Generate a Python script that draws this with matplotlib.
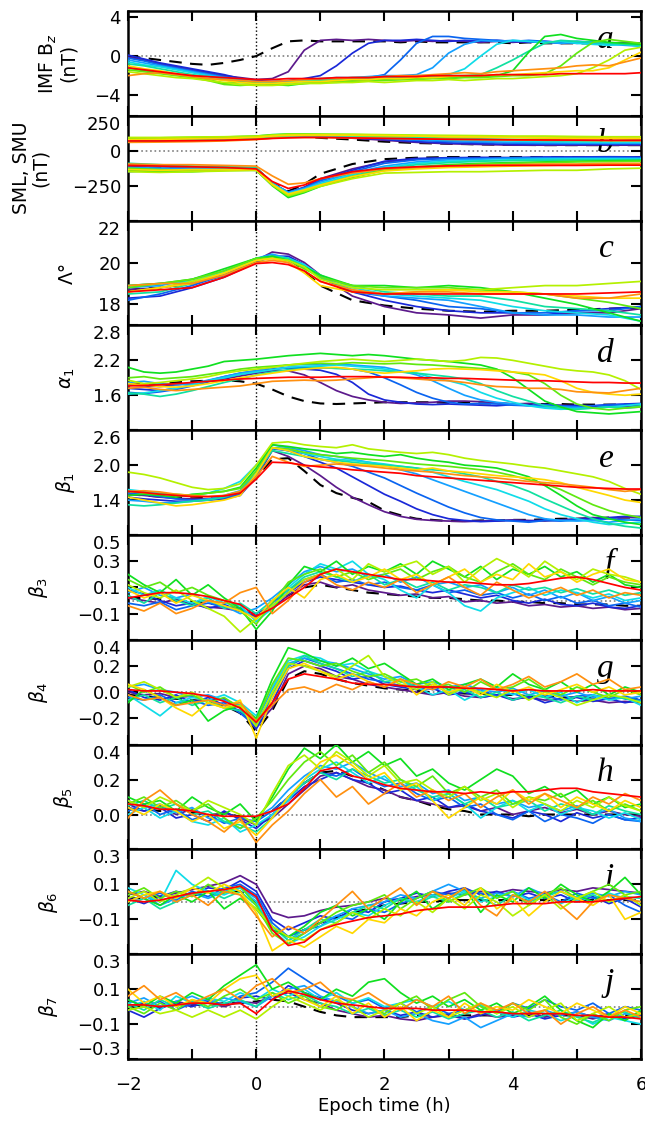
import numpy as np
import matplotlib
matplotlib.use('Agg')
import matplotlib.pyplot as plt

plt.rcParams['font.family'] = 'DejaVu Sans'
plt.rcParams['font.size'] = 13
plt.rcParams['mathtext.fontset'] = 'dejavusans'

# epoch times (h)
time_q = np.linspace(-2, 6, 33)   # quarter-hour samples
time_b = [-2, -1.5, -1, -0.5, 0, 0.25, 0.5, 0.75, 1, 1.5, 2, 2.5, 3, 3.5, 4, 4.5, 5, 5.5, 6]

colors = ['#5c1a8c', '#1a28d8', '#0a64f0', '#14a0ff', '#10dce8', '#10e0a0',
          '#10e020', '#60e810', '#b4f000', '#ffd800', '#ff9010', '#ff0000']

# a) IMF Bz (nT)
bz = [
    [-0.1,-0.4,-0.8,-1.1,-1.4,-1.7,-2.0,-2.2,-2.4,-2.3,-1.6,0.6,1.6,1.7,1.6,1.7,1.6,1.5,1.6,1.5,1.6,1.5,1.4,1.5,1.4,1.5,1.4,1.3,1.4,1.3,1.3,1.4,1.3],
    [0.1,-0.3,-0.7,-1.0,-1.3,-1.6,-1.9,-2.3,-2.5,-2.6,-2.5,-2.3,-2.0,-1.0,0.3,1.3,1.6,1.6,1.7,1.6,1.5,1.6,1.5,1.6,1.5,1.4,1.5,1.4,1.3,1.4,1.3,1.2,1.3],
    [-0.2,-0.5,-0.9,-1.2,-1.5,-1.8,-2.1,-2.4,-2.6,-2.7,-2.6,-2.5,-2.4,-2.3,-2.2,-2.2,-1.9,-0.4,1.3,2.0,2.0,1.8,1.7,1.6,1.5,1.6,1.5,1.4,1.5,1.4,1.3,1.2,1.2],
    [-0.4,-0.7,-1.0,-1.3,-1.6,-1.9,-2.2,-2.4,-2.6,-2.7,-2.6,-2.4,-2.3,-2.2,-2.2,-2.1,-2.0,-2.0,-1.9,-1.2,0.3,1.2,1.6,1.5,1.6,1.5,1.4,1.3,1.4,1.3,1.2,1.1,1.0],
    [-0.6,-0.9,-1.1,-1.4,-1.7,-2.0,-2.3,-2.5,-2.7,-2.8,-2.7,-2.5,-2.4,-2.3,-2.3,-2.2,-2.2,-2.1,-2.0,-2.0,-1.9,-1.3,0.0,1.2,1.6,1.5,1.4,1.5,1.3,1.2,1.1,1.2,1.0],
    [-0.8,-1.0,-1.3,-1.6,-1.9,-2.1,-2.4,-2.6,-2.8,-2.8,-2.7,-2.6,-2.5,-2.4,-2.4,-2.3,-2.3,-2.2,-2.2,-2.1,-2.0,-2.0,-1.9,-1.2,-0.4,0.5,1.3,1.6,1.5,1.4,1.3,1.2,1.1],
    [-1.2,-1.5,-1.7,-1.9,-2.1,-2.4,-2.8,-2.7,-2.8,-2.9,-3.0,-2.8,-2.7,-2.6,-2.5,-2.5,-2.4,-2.4,-2.3,-2.2,-2.2,-2.1,-2.1,-2.0,-1.5,0.4,2.0,2.2,1.8,1.6,1.4,1.3,1.2],
    [-1.4,-1.6,-1.8,-2.0,-2.2,-2.5,-2.9,-3.0,-2.9,-2.8,-2.9,-2.8,-2.7,-2.7,-2.6,-2.5,-2.5,-2.4,-2.4,-2.3,-2.3,-2.2,-2.2,-2.1,-2.0,-2.0,-1.8,-1.0,0.3,1.4,1.7,1.5,1.3],
    [-1.6,-1.8,-2.0,-2.2,-2.3,-2.5,-2.7,-2.9,-3.0,-3.0,-2.9,-2.8,-2.8,-2.7,-2.7,-2.6,-2.7,-2.6,-2.5,-2.5,-2.4,-2.5,-2.4,-2.3,-2.3,-2.2,-2.1,-2.0,-1.8,-1.2,-0.4,0.6,0.9],
    [-1.0,-1.3,-1.5,-1.8,-2.0,-2.3,-2.5,-2.7,-2.8,-2.8,-2.7,-2.6,-2.6,-2.5,-2.4,-2.4,-2.3,-2.3,-2.2,-2.2,-2.1,-2.0,-2.0,-1.9,-1.9,-1.8,-1.7,-1.6,-1.5,-1.5,-1.2,-0.4,0.4],
    [-2.0,-1.8,-1.7,-1.9,-2.1,-2.3,-2.4,-2.5,-2.6,-2.6,-2.5,-2.4,-2.3,-2.3,-2.2,-2.2,-2.1,-2.0,-2.0,-1.9,-1.8,-1.7,-1.8,-1.6,-1.5,-1.4,-1.3,-1.2,-1.0,-0.9,-1.0,-0.6,-0.2],
    [-1.2,-1.4,-1.6,-1.8,-2.0,-2.1,-2.2,-2.3,-2.4,-2.4,-2.3,-2.3,-2.3,-2.2,-2.2,-2.2,-2.1,-2.1,-2.1,-2.0,-2.0,-2.0,-2.0,-1.9,-1.9,-1.9,-1.9,-1.8,-1.8,-1.8,-1.8,-1.8,-1.7],
]
bz_ref = [0.0,-0.2,-0.4,-0.6,-0.8,-0.9,-0.7,-0.4,0.0,0.8,1.5,1.6,1.5,1.5,1.5,1.5,1.5,1.4,1.5,1.4,1.4,1.4,1.4,1.4,1.3,1.4,1.3,1.3,1.3,1.3,1.3,1.3,1.3]

# b) SML (lower) and SMU (upper), nT
sml = [
    [-110,-115,-120,-120,-125,-230,-300,-260,-200,-130,-80,-60,-55,-50,-50,-48,-45,-45,-45],
    [-130,-135,-125,-130,-140,-240,-300,-270,-210,-140,-75,-55,-50,-48,-50,-45,-45,-43,-45],
    [-150,-140,-135,-130,-135,-235,-295,-265,-215,-150,-90,-65,-55,-55,-50,-50,-50,-48,-50],
    [-120,-125,-130,-130,-130,-230,-300,-270,-225,-160,-110,-80,-65,-60,-55,-55,-55,-55,-55],
    [-100,-110,-115,-120,-125,-235,-305,-275,-235,-170,-120,-90,-75,-70,-65,-60,-58,-58,-60],
    [-90,-100,-110,-115,-120,-240,-315,-285,-245,-180,-130,-100,-85,-75,-70,-68,-65,-65,-65],
    [-140,-150,-150,-140,-140,-250,-335,-300,-255,-190,-140,-115,-100,-90,-85,-80,-75,-72,-70],
    [-125,-135,-140,-135,-135,-245,-325,-295,-250,-185,-140,-120,-105,-95,-90,-85,-80,-78,-75],
    [-150,-155,-150,-145,-140,-245,-320,-290,-255,-200,-160,-155,-150,-150,-145,-140,-140,-130,-125],
    [-135,-140,-135,-135,-135,-240,-310,-280,-245,-185,-145,-130,-120,-115,-110,-105,-100,-100,-95],
    [-95,-100,-100,-105,-110,-180,-240,-230,-200,-160,-130,-120,-110,-105,-100,-95,-95,-90,-90],
    [-105,-110,-115,-120,-130,-220,-270,-245,-200,-150,-125,-115,-108,-105,-105,-105,-105,-103,-103],
]
smu = [
    [80,80,82,85,95,105,110,105,100,90,75,60,50,45,40,40,40,40,40],
    [85,85,88,90,100,110,112,110,105,95,80,65,55,50,45,45,45,45,45],
    [75,78,80,85,95,105,110,108,105,95,85,75,65,60,55,50,50,50,50],
    [70,72,75,80,90,100,105,105,105,100,90,80,72,65,60,58,55,55,55],
    [68,70,72,78,88,98,105,108,108,105,95,88,80,75,70,65,62,60,60],
    [72,72,75,80,90,100,108,110,110,108,100,95,90,85,80,75,72,70,70],
    [90,92,95,98,105,115,120,120,118,115,112,108,105,100,98,95,92,90,88],
    [85,88,90,92,100,110,115,115,115,112,108,105,100,98,95,92,90,88,85],
    [95,95,98,100,105,112,118,118,118,118,115,112,110,108,105,105,102,100,100],
    [80,82,85,88,95,105,110,112,112,110,108,105,100,98,95,92,90,90,88],
    [60,62,65,70,80,90,95,95,95,92,90,85,82,80,78,75,75,72,72],
    [70,70,72,75,82,88,92,95,95,92,88,85,82,80,78,77,76,75,75],
]
sml_ref = [-110,-115,-120,-120,-125,-230,-290,-240,-165,-95,-60,-50,-45,-45,-45,-45,-45,-45,-45]
smu_ref = [80,80,82,85,92,100,105,100,92,80,65,55,50,45,42,40,40,40,40]

# c) Lambda (deg)
lam = [
    [18.7,18.8,19.0,19.4,20.1,20.5,20.4,20.0,19.4,18.4,17.9,17.6,17.5,17.35,17.5,17.5,17.6,17.6,17.8],
    [18.3,18.4,18.8,19.3,20.0,20.3,20.3,19.9,19.3,18.6,18.2,17.9,17.7,17.6,17.6,17.5,17.7,17.8,17.9],
    [18.2,18.5,18.9,19.4,20.1,20.3,20.2,19.9,19.3,18.6,18.4,18.2,17.9,17.8,17.6,17.6,17.7,17.7,17.9],
    [18.8,18.9,19.2,19.6,20.2,20.4,20.2,19.8,19.3,18.7,18.4,18.3,18.2,17.9,17.6,17.5,17.5,17.4,17.4],
    [18.9,19.0,19.1,19.6,20.2,20.3,20.2,19.9,19.4,18.8,18.5,18.4,18.3,18.2,17.9,17.7,17.6,17.5,17.2],
    [18.5,18.6,19.0,19.5,20.2,20.3,20.2,19.8,19.3,18.9,18.6,18.5,18.4,18.4,18.2,17.9,17.8,17.7,17.5],
    [18.9,19.0,19.2,19.7,20.2,20.3,20.1,19.8,19.4,18.9,18.9,18.8,18.9,18.8,18.6,18.3,18.0,17.6,17.2],
    [18.8,19.0,19.2,19.6,20.2,20.2,20.1,19.7,19.3,18.9,18.8,18.8,18.8,18.7,18.6,18.5,18.3,18.1,17.8],
    [18.6,18.8,19.1,19.5,20.1,20.2,20.1,19.8,19.2,18.8,18.7,18.7,18.7,18.7,18.8,18.9,18.9,19.0,19.1],
    [18.6,18.8,19.0,19.5,20.1,20.2,20.0,19.5,18.9,18.6,18.5,18.6,18.7,18.6,18.6,18.5,18.4,18.3,18.3],
    [18.9,19.0,19.0,19.4,20.0,20.1,20.0,19.6,19.1,18.7,18.5,18.6,18.6,18.5,18.5,18.5,18.3,18.3,18.5],
    [18.6,18.7,18.8,19.3,19.95,20.0,19.9,19.6,19.1,18.6,18.5,18.5,18.5,18.5,18.5,18.5,18.5,18.55,18.6],
]
lam_ref = [18.7,18.8,19.0,19.4,20.0,20.3,20.2,19.6,18.9,18.2,17.95,17.8,17.7,17.65,17.7,17.7,17.75,17.8,17.85]

# d) alpha_1
alpha1 = [
    [1.78,1.76,1.75,1.78,1.80,1.84,1.88,1.93,1.98,2.02,2.02,1.95,1.82,1.68,1.58,1.52,1.48,1.46,1.47,1.48,1.50,1.50,1.49,1.47,1.45,1.46,1.44,1.43,1.42,1.40,1.42,1.41,1.42],
    [1.72,1.70,1.68,1.72,1.78,1.85,1.92,1.98,2.02,2.05,2.07,2.05,2.03,1.96,1.82,1.62,1.52,1.48,1.45,1.44,1.45,1.44,1.43,1.42,1.44,1.43,1.42,1.41,1.43,1.42,1.44,1.45,1.46],
    [1.65,1.63,1.66,1.70,1.76,1.83,1.90,1.96,2.00,2.04,2.08,2.08,2.07,2.07,2.05,2.00,1.90,1.78,1.65,1.55,1.48,1.45,1.46,1.45,1.43,1.42,1.44,1.42,1.40,1.42,1.43,1.44,1.45],
    [1.82,1.84,1.80,1.78,1.80,1.86,1.92,1.98,2.02,2.08,2.12,2.13,2.12,2.14,2.12,2.10,2.08,2.02,1.95,1.85,1.72,1.60,1.52,1.48,1.45,1.42,1.40,1.40,1.39,1.38,1.40,1.38,1.40],
    [1.62,1.64,1.68,1.72,1.78,1.85,1.90,1.96,2.00,2.04,2.08,2.10,2.10,2.12,2.10,2.08,2.05,2.00,1.98,1.90,1.85,1.78,1.65,1.55,1.48,1.42,1.38,1.36,1.37,1.38,1.40,1.42,1.45],
    [1.64,1.62,1.58,1.62,1.68,1.75,1.82,1.88,1.95,2.00,2.04,2.06,2.08,2.06,2.05,2.04,2.02,2.00,1.98,1.95,1.92,1.88,1.80,1.68,1.58,1.50,1.42,1.38,1.36,1.38,1.40,1.38,1.42],
    [2.08,2.00,1.98,2.00,2.05,2.10,2.18,2.20,2.22,2.25,2.28,2.30,2.32,2.30,2.28,2.30,2.28,2.25,2.22,2.20,2.18,2.15,2.12,2.05,1.90,1.70,1.50,1.40,1.32,1.30,1.28,1.30,1.32],
    [1.90,1.92,1.88,1.90,1.92,1.96,2.00,2.05,2.08,2.10,2.12,2.14,2.15,2.14,2.16,2.15,2.14,2.15,2.13,2.12,2.10,2.08,2.06,2.04,2.00,1.95,1.80,1.60,1.45,1.38,1.35,1.38,1.40],
    [1.86,1.80,1.82,1.85,1.88,1.92,1.98,2.02,2.05,2.08,2.12,2.15,2.18,2.20,2.22,2.20,2.18,2.20,2.22,2.20,2.18,2.20,2.25,2.24,2.20,2.15,2.10,2.05,2.02,2.00,1.95,1.85,1.70],
    [1.80,1.78,1.75,1.74,1.76,1.80,1.85,1.90,1.94,1.98,2.02,2.05,2.07,2.08,2.05,2.00,1.98,2.00,2.02,2.05,2.06,2.05,2.04,2.02,2.00,1.98,1.95,1.85,1.72,1.65,1.62,1.60,1.62],
    [1.72,1.74,1.70,1.68,1.70,1.72,1.74,1.76,1.80,1.84,1.85,1.86,1.85,1.86,1.88,1.90,1.92,1.90,1.88,1.86,1.85,1.82,1.78,1.75,1.74,1.72,1.72,1.70,1.66,1.65,1.64,1.68,1.72],
    [1.76,1.77,1.78,1.80,1.82,1.84,1.86,1.88,1.89,1.90,1.91,1.91,1.91,1.92,1.92,1.92,1.91,1.91,1.90,1.90,1.89,1.89,1.88,1.87,1.86,1.85,1.85,1.84,1.83,1.82,1.82,1.81,1.81],
]
alpha1_ref = [1.78,1.80,1.80,1.82,1.84,1.85,1.86,1.84,1.80,1.70,1.58,1.50,1.46,1.45,1.46,1.47,1.48,1.48,1.48,1.48,1.47,1.47,1.46,1.46,1.45,1.45,1.45,1.45,1.44,1.44,1.44,1.44,1.44]

# e) beta_1
beta1 = [
    [1.50,1.48,1.45,1.43,1.42,1.42,1.44,1.50,1.78,2.25,2.15,2.00,1.82,1.62,1.45,1.32,1.20,1.12,1.07,1.05,1.04,1.03,1.04,1.05,1.06,1.05,1.04,1.06,1.08,1.10,1.09,1.10,1.10],
    [1.45,1.42,1.40,1.38,1.38,1.40,1.42,1.48,1.80,2.30,2.25,2.15,2.05,1.95,1.80,1.65,1.50,1.38,1.25,1.15,1.08,1.05,1.03,1.04,1.05,1.04,1.06,1.05,1.07,1.08,1.10,1.12,1.12],
    [1.52,1.50,1.46,1.42,1.40,1.41,1.44,1.50,1.82,2.28,2.25,2.20,2.10,2.05,1.98,1.88,1.78,1.65,1.52,1.40,1.28,1.18,1.10,1.06,1.04,1.02,1.05,1.04,1.06,1.05,1.08,1.06,1.05],
    [1.40,1.38,1.35,1.36,1.38,1.42,1.48,1.56,1.90,2.35,2.30,2.25,2.18,2.15,2.10,2.05,2.00,1.92,1.85,1.75,1.65,1.55,1.45,1.35,1.25,1.15,1.08,1.05,1.04,1.05,1.02,1.05,1.08],
    [1.58,1.55,1.52,1.48,1.48,1.52,1.60,1.72,2.00,2.30,2.28,2.20,2.15,2.10,2.08,2.05,2.02,1.98,1.95,1.88,1.80,1.72,1.65,1.58,1.48,1.38,1.25,1.15,1.08,1.02,0.98,1.00,1.02],
    [1.32,1.30,1.32,1.35,1.38,1.40,1.45,1.55,1.85,2.25,2.20,2.15,2.10,2.08,2.05,2.02,2.00,1.98,1.95,1.92,1.90,1.85,1.80,1.72,1.65,1.55,1.42,1.30,1.18,1.08,1.00,0.95,0.92],
    [1.48,1.50,1.48,1.45,1.50,1.52,1.55,1.62,1.95,2.35,2.32,2.28,2.25,2.20,2.22,2.18,2.15,2.18,2.12,2.08,2.05,2.00,1.98,1.95,1.88,1.80,1.65,1.48,1.30,1.15,1.08,1.02,0.98],
    [1.55,1.52,1.50,1.50,1.48,1.52,1.55,1.60,1.90,2.30,2.28,2.22,2.18,2.15,2.12,2.10,2.08,2.05,2.02,2.00,1.98,1.95,1.92,1.88,1.82,1.75,1.68,1.58,1.45,1.32,1.22,1.15,1.10],
    [1.88,1.84,1.78,1.70,1.62,1.58,1.60,1.68,2.00,2.38,2.40,2.35,2.32,2.30,2.35,2.28,2.25,2.22,2.20,2.22,2.18,2.12,2.08,2.05,2.02,1.98,1.95,1.90,1.85,1.80,1.72,1.60,1.50],
    [1.45,1.40,1.35,1.30,1.32,1.36,1.40,1.48,1.85,2.30,2.25,2.15,2.10,2.05,2.02,2.00,1.98,1.95,1.92,1.95,1.90,1.88,1.85,1.82,1.80,1.78,1.75,1.70,1.62,1.55,1.48,1.40,1.36],
    [1.55,1.56,1.54,1.50,1.48,1.46,1.48,1.55,1.80,2.15,2.05,1.98,2.00,2.02,2.00,1.98,1.95,1.92,1.90,1.88,1.85,1.82,1.80,1.78,1.75,1.72,1.70,1.68,1.65,1.62,1.58,1.55,1.58],
    [1.55,1.53,1.50,1.48,1.46,1.46,1.47,1.52,1.76,2.05,2.04,2.00,1.97,1.95,1.92,1.90,1.88,1.86,1.82,1.80,1.78,1.76,1.74,1.72,1.70,1.68,1.66,1.64,1.62,1.61,1.60,1.59,1.59],
]
beta1_ref = [1.50,1.48,1.46,1.44,1.43,1.44,1.46,1.52,1.80,2.10,2.12,1.90,1.66,1.52,1.44,1.37,1.22,1.14,1.08,1.06,1.04,1.04,1.05,1.05,1.06,1.06,1.07,1.08,1.08,1.09,1.10,1.10,1.10]

# f) beta_3
beta3 = [
    [0.02,0.00,-0.02,0.01,-0.03,-0.05,-0.06,-0.08,-0.12,-0.06,0.04,0.12,0.14,0.10,0.12,0.08,0.06,0.04,0.05,0.02,0.03,-0.01,0.00,-0.02,-0.01,-0.04,-0.03,-0.05,-0.04,-0.06,-0.05,-0.07,-0.06],
    [0.08,0.05,0.00,-0.04,-0.02,-0.06,-0.03,-0.08,-0.10,-0.04,0.06,0.14,0.18,0.16,0.14,0.12,0.10,0.11,0.08,0.06,0.08,0.05,0.02,0.04,0.00,-0.02,0.01,-0.03,-0.04,-0.02,-0.05,-0.06,-0.04],
    [-0.02,-0.04,-0.01,-0.07,-0.04,-0.02,-0.05,-0.06,-0.14,-0.02,0.08,0.16,0.20,0.14,0.16,0.12,0.14,0.10,0.08,0.12,0.06,0.08,0.04,0.06,0.02,0.05,0.00,0.03,-0.02,0.00,-0.04,-0.02,-0.05],
    [0.06,0.10,0.04,0.02,0.05,-0.01,-0.04,-0.10,-0.06,0.02,0.12,0.22,0.26,0.22,0.24,0.18,0.20,0.14,0.18,0.12,0.14,0.10,0.12,0.06,0.10,0.04,0.08,0.02,0.06,0.00,0.03,-0.02,0.00],
    [0.10,0.04,0.08,0.02,-0.02,0.03,-0.02,-0.04,-0.16,-0.06,0.10,0.20,0.28,0.24,0.30,0.20,0.16,0.08,0.02,0.12,0.06,-0.04,-0.08,0.02,0.06,0.10,0.04,0.08,0.06,0.02,0.05,0.00,0.02],
    [0.04,-0.02,0.06,0.00,-0.04,0.02,-0.06,-0.02,-0.10,0.00,0.08,0.18,0.22,0.18,0.14,0.20,0.12,0.16,0.10,0.14,0.08,0.12,0.10,0.06,0.12,0.08,0.10,0.06,0.09,0.05,0.08,0.04,0.06],
    [0.20,0.12,0.06,0.16,0.04,0.12,0.02,-0.06,-0.22,-0.08,0.12,0.26,0.22,0.30,0.20,0.26,0.22,0.28,0.20,0.30,0.24,0.18,0.26,0.16,0.24,0.20,0.26,0.18,0.22,0.14,0.20,0.12,0.10],
    [0.16,0.10,0.14,0.06,0.10,0.04,0.00,-0.08,-0.18,-0.02,0.14,0.20,0.24,0.18,0.22,0.16,0.20,0.24,0.16,0.22,0.26,0.18,0.14,0.22,0.28,0.20,0.16,0.24,0.18,0.12,0.18,0.14,0.12],
    [0.12,0.06,0.02,0.08,0.00,-0.06,-0.12,-0.24,-0.14,-0.04,0.06,0.16,0.20,0.24,0.16,0.28,0.22,0.26,0.30,0.20,0.26,0.14,0.24,0.32,0.26,0.18,0.30,0.22,0.16,0.24,0.20,0.18,0.14],
    [0.08,0.02,0.06,-0.02,0.04,0.00,-0.04,-0.08,-0.14,0.00,0.10,0.02,0.16,0.20,0.14,0.18,0.24,0.16,0.20,0.12,0.18,0.24,0.14,0.20,0.16,0.28,0.18,0.22,0.14,0.20,0.24,0.16,0.14],
    [-0.04,-0.08,-0.02,-0.10,-0.06,0.00,-0.02,0.06,0.10,-0.10,0.00,0.14,0.20,0.12,0.08,0.14,0.10,0.16,0.06,0.12,0.18,0.10,0.04,0.14,0.08,0.02,0.06,0.10,0.04,0.08,0.02,0.06,0.04],
    [0.02,0.04,0.06,0.06,0.05,0.03,0.00,-0.03,-0.12,-0.06,0.02,0.10,0.20,0.24,0.22,0.20,0.18,0.16,0.16,0.15,0.14,0.14,0.13,0.12,0.12,0.13,0.15,0.17,0.18,0.16,0.13,0.10,0.08],
]
beta3_ref = [0.02,0.02,0.01,0.00,-0.01,-0.02,-0.04,-0.06,-0.12,-0.06,0.04,0.10,0.12,0.10,0.08,0.06,0.05,0.04,0.03,0.02,0.02,0.01,0.00,0.00,-0.01,-0.01,-0.02,-0.02,-0.03,-0.03,-0.03,-0.04,-0.04]

# g) beta_4
beta4 = [
    [0.00,-0.02,-0.01,-0.04,-0.03,-0.06,-0.05,-0.12,-0.26,-0.12,0.14,0.20,0.18,0.12,0.10,0.06,0.04,0.02,0.00,-0.02,0.00,-0.03,-0.04,-0.02,-0.05,-0.04,-0.06,-0.05,-0.07,-0.06,-0.08,-0.07,-0.08],
    [0.02,-0.04,-0.06,-0.02,-0.08,-0.04,-0.10,-0.14,-0.28,-0.08,0.18,0.24,0.20,0.16,0.10,0.12,0.06,0.04,0.02,0.03,-0.02,0.00,-0.04,-0.02,-0.06,-0.03,-0.08,-0.05,-0.04,-0.07,-0.05,-0.08,-0.06],
    [-0.04,-0.06,-0.02,-0.08,-0.06,-0.10,-0.08,-0.16,-0.26,-0.04,0.20,0.26,0.22,0.18,0.14,0.10,0.08,0.05,0.06,0.02,0.04,0.00,0.02,-0.03,-0.01,-0.05,-0.02,-0.06,-0.03,-0.02,-0.05,-0.03,-0.06],
    [0.04,0.06,0.02,0.00,-0.04,-0.02,-0.06,-0.10,-0.22,0.02,0.22,0.26,0.24,0.22,0.18,0.14,0.10,0.12,0.06,0.08,0.04,0.06,0.02,0.00,0.03,-0.02,0.01,-0.03,0.00,-0.04,-0.02,-0.05,-0.03],
    [-0.02,-0.10,-0.18,-0.08,-0.04,-0.06,-0.02,-0.08,-0.18,0.04,0.24,0.28,0.26,0.20,0.22,0.16,0.12,0.08,0.04,-0.02,0.02,-0.06,0.00,0.04,-0.02,0.02,-0.04,0.00,-0.08,-0.02,-0.06,-0.04,-0.10],
    [-0.06,-0.02,-0.08,-0.04,-0.10,-0.06,-0.12,-0.14,-0.24,-0.02,0.20,0.28,0.22,0.18,0.12,0.16,0.08,0.10,0.04,0.06,0.00,0.02,-0.04,0.00,-0.06,-0.02,-0.04,-0.08,-0.03,-0.06,-0.02,-0.05,-0.07],
    [-0.08,0.02,-0.04,-0.10,-0.06,-0.22,-0.14,-0.10,-0.20,0.10,0.34,0.30,0.24,0.20,0.26,0.18,0.22,0.14,0.06,0.10,0.02,0.06,0.10,0.04,0.14,0.06,0.02,0.08,0.00,0.06,-0.02,0.04,0.00],
    [0.06,0.00,0.04,-0.04,-0.02,-0.08,-0.04,-0.12,-0.22,0.06,0.26,0.24,0.20,0.22,0.16,0.12,0.14,0.08,0.10,0.04,0.06,0.00,0.08,0.02,0.04,0.10,0.02,-0.02,0.04,0.00,-0.04,0.02,-0.02],
    [0.04,0.08,0.02,-0.04,0.00,-0.08,-0.12,-0.10,-0.26,0.00,0.22,0.20,0.16,0.12,0.20,0.28,0.12,0.06,0.02,0.08,-0.02,0.04,0.00,-0.04,0.02,-0.06,0.00,-0.04,-0.10,-0.06,-0.02,-0.04,-0.08],
    [0.06,0.02,-0.04,-0.12,-0.18,-0.08,-0.12,-0.06,-0.35,-0.04,0.18,0.22,0.16,0.10,0.14,0.08,0.04,0.10,-0.02,0.06,0.00,0.04,-0.02,0.06,0.00,0.04,-0.02,0.02,0.06,0.00,0.04,-0.02,0.00],
    [-0.02,-0.06,-0.04,-0.10,-0.08,-0.06,-0.10,-0.08,-0.22,-0.10,0.02,0.04,0.00,0.06,0.02,0.08,0.04,0.10,0.06,0.02,0.08,0.04,0.10,0.02,0.06,0.12,0.04,0.08,0.14,0.06,0.10,0.02,0.04],
    [0.02,0.01,0.01,0.00,-0.01,-0.03,-0.07,-0.12,-0.23,-0.08,0.10,0.14,0.12,0.10,0.07,0.06,0.06,0.05,0.04,0.04,0.04,0.03,0.03,0.02,0.01,0.02,0.01,0.01,0.01,0.02,0.01,0.01,0.01],
]
beta4_ref = [-0.02,-0.03,-0.04,-0.05,-0.06,-0.07,-0.10,-0.16,-0.30,-0.14,0.10,0.16,0.14,0.10,0.07,0.05,0.03,0.02,0.01,0.00,0.00,-0.01,-0.01,-0.02,-0.02,-0.03,-0.03,-0.04,-0.04,-0.04,-0.05,-0.05,-0.05]

# h) beta_5
beta5 = [
    [0.04,0.02,0.05,0.00,0.03,-0.01,0.01,-0.02,-0.06,-0.02,0.06,0.14,0.22,0.24,0.20,0.16,0.14,0.10,0.08,0.06,0.04,0.05,0.02,0.04,0.00,0.02,0.04,0.01,0.03,0.00,0.02,0.00,-0.01],
    [0.06,0.02,0.04,-0.02,0.00,-0.04,0.02,-0.03,-0.08,0.00,0.08,0.16,0.20,0.24,0.20,0.18,0.12,0.14,0.08,0.10,0.04,0.06,0.02,0.00,-0.02,0.02,0.00,-0.04,0.01,-0.02,0.00,-0.03,-0.02],
    [0.02,0.06,0.00,0.03,-0.03,0.00,-0.05,-0.02,-0.04,0.02,0.10,0.18,0.24,0.22,0.26,0.20,0.16,0.18,0.12,0.08,0.10,0.04,0.06,0.00,-0.03,0.02,-0.04,0.00,-0.02,-0.05,0.00,-0.03,-0.04],
    [0.08,0.04,0.06,0.01,0.04,-0.02,-0.04,-0.08,-0.02,0.04,0.14,0.22,0.28,0.26,0.30,0.24,0.20,0.16,0.18,0.12,0.14,0.08,0.10,0.06,0.08,0.04,0.06,0.02,0.05,0.00,0.03,-0.02,-0.04],
    [0.00,0.04,-0.02,0.02,-0.04,-0.06,-0.02,-0.10,-0.06,0.00,0.08,0.20,0.26,0.30,0.24,0.18,0.22,0.14,0.16,0.08,0.12,0.06,-0.02,0.04,0.08,0.02,0.06,0.00,0.04,0.02,-0.02,0.01,-0.03],
    [0.05,0.08,0.03,0.06,0.00,0.02,-0.04,-0.06,-0.10,-0.02,0.10,0.18,0.24,0.20,0.26,0.22,0.18,0.20,0.14,0.10,0.12,0.06,0.10,0.04,0.06,0.08,0.02,0.06,0.04,0.00,0.05,0.02,0.00],
    [0.10,0.06,0.08,0.02,0.10,0.04,0.00,0.06,-0.04,0.10,0.26,0.38,0.32,0.40,0.30,0.36,0.28,0.32,0.22,0.26,0.18,0.14,0.20,0.26,0.22,0.12,0.16,0.10,0.14,0.06,0.10,0.04,0.06],
    [0.06,0.10,0.04,0.08,0.02,0.06,-0.02,-0.08,-0.02,0.08,0.20,0.30,0.36,0.28,0.34,0.24,0.30,0.20,0.16,0.22,0.12,0.16,0.10,0.14,0.06,0.10,0.08,0.12,0.04,0.08,0.02,0.06,0.02],
    [0.08,0.04,0.10,0.06,0.02,0.08,0.04,0.00,-0.06,0.12,0.28,0.34,0.26,0.36,0.30,0.22,0.28,0.18,0.20,0.14,0.10,0.16,0.08,0.12,0.04,0.10,0.06,0.02,0.08,0.04,0.10,0.05,0.02],
    [0.04,0.00,0.06,0.02,-0.04,0.00,-0.08,-0.04,-0.12,-0.02,0.10,0.20,0.30,0.34,0.28,0.20,0.24,0.14,0.18,0.08,-0.02,0.04,0.10,0.06,0.14,0.08,0.12,0.04,0.10,0.06,0.02,0.08,0.04],
    [-0.02,0.08,0.14,0.06,0.00,-0.04,-0.10,-0.02,-0.16,-0.06,0.02,0.12,0.20,0.10,0.16,0.06,0.12,0.18,0.10,0.14,0.08,0.12,0.04,0.10,0.14,0.06,0.12,0.08,0.04,0.10,0.06,0.12,0.08],
    [0.06,0.05,0.03,0.03,0.02,0.00,-0.01,-0.01,-0.01,0.02,0.06,0.15,0.25,0.27,0.22,0.20,0.17,0.15,0.14,0.13,0.13,0.12,0.13,0.12,0.13,0.13,0.14,0.15,0.15,0.13,0.12,0.11,0.10],
]
beta5_ref = [0.03,0.03,0.02,0.02,0.01,0.00,0.00,-0.01,-0.02,0.02,0.10,0.18,0.24,0.25,0.22,0.18,0.14,0.10,0.08,0.05,0.03,0.02,0.00,0.00,0.00,-0.01,0.00,0.00,0.00,0.00,0.00,0.00,0.00]

# i) beta_6
beta6 = [
    [0.04,0.06,0.03,0.05,0.07,0.09,0.11,0.15,0.10,-0.06,-0.09,-0.08,-0.05,-0.03,-0.02,0.00,0.02,0.01,0.03,0.04,0.05,0.04,0.06,0.05,0.07,0.06,0.05,0.07,0.06,0.08,0.07,0.06,0.05],
    [0.02,-0.01,0.03,0.06,0.04,0.08,0.07,0.12,0.06,-0.10,-0.16,-0.12,-0.08,-0.10,-0.04,-0.06,0.00,0.02,0.05,0.03,0.06,0.08,0.04,0.06,0.03,0.05,0.02,0.04,0.00,0.03,-0.01,0.02,-0.03],
    [0.06,0.02,0.05,0.01,0.06,0.03,0.08,0.10,0.04,-0.12,-0.20,-0.16,-0.14,-0.08,-0.10,-0.04,-0.06,-0.01,0.02,0.06,0.04,0.07,0.05,0.03,0.06,0.02,0.04,0.00,0.05,0.02,0.04,-0.02,-0.06],
    [0.00,0.04,-0.02,0.02,0.05,0.02,0.06,0.08,0.02,-0.14,-0.22,-0.18,-0.12,-0.08,-0.04,-0.02,0.00,0.04,0.02,0.06,0.10,0.06,0.02,0.05,0.03,0.08,0.04,0.06,0.02,0.05,0.03,0.06,0.04],
    [0.08,0.04,0.00,0.18,0.10,0.06,0.04,0.08,0.00,-0.16,-0.24,-0.20,-0.14,-0.10,-0.06,-0.08,-0.02,0.02,0.00,0.04,0.02,0.06,0.00,0.03,0.06,0.01,0.04,-0.01,0.03,0.00,0.05,0.02,0.00],
    [-0.02,0.02,-0.04,0.00,0.04,0.06,0.02,0.06,-0.02,-0.14,-0.22,-0.16,-0.10,-0.12,-0.06,-0.02,-0.04,0.02,-0.01,0.03,0.00,0.05,0.02,-0.02,0.04,0.00,0.03,0.06,0.01,0.04,0.00,0.03,0.02],
    [0.06,0.02,-0.02,0.04,0.00,0.06,-0.04,0.02,-0.04,-0.16,-0.20,-0.14,-0.06,-0.02,-0.08,-0.04,-0.10,0.00,0.06,-0.04,0.02,0.08,-0.06,0.04,0.00,0.08,0.02,0.10,0.04,0.00,0.06,0.14,0.04],
    [0.04,0.08,0.02,0.06,0.03,0.10,0.05,0.09,-0.02,-0.18,-0.24,-0.18,-0.12,-0.06,-0.02,0.00,0.04,-0.04,0.02,0.06,0.00,0.04,0.08,0.02,0.06,-0.02,0.04,0.08,0.02,0.06,0.10,0.04,0.06],
    [0.02,0.06,0.00,0.04,0.08,0.14,0.08,0.04,-0.04,-0.14,-0.20,-0.22,-0.16,-0.12,-0.06,-0.10,-0.04,-0.08,0.00,-0.06,0.02,-0.04,0.04,0.00,-0.08,-0.02,0.04,-0.04,0.02,0.06,0.00,0.04,-0.02],
    [0.00,0.04,0.06,0.02,0.08,0.05,0.10,0.06,-0.06,-0.28,-0.22,-0.26,-0.20,-0.14,-0.18,-0.10,-0.12,-0.04,-0.08,0.00,0.04,-0.02,0.08,-0.04,0.02,-0.08,0.00,0.06,0.02,-0.02,0.04,-0.10,-0.06],
    [0.06,0.02,0.06,0.00,0.04,-0.02,0.06,0.04,-0.08,-0.20,-0.14,-0.18,-0.10,-0.02,0.06,-0.04,0.02,0.08,-0.02,0.06,0.02,0.08,-0.02,-0.08,0.04,0.00,0.06,-0.02,-0.10,0.00,0.04,0.02,0.00],
    [0.01,0.00,0.01,0.03,0.05,0.06,0.07,0.09,0.03,-0.16,-0.25,-0.23,-0.16,-0.13,-0.11,-0.09,-0.08,-0.07,-0.05,-0.04,-0.03,-0.03,-0.03,-0.02,-0.01,-0.01,-0.01,0.00,0.00,0.00,0.01,0.02,0.03],
]
beta6_ref = [0.02,0.02,0.03,0.03,0.04,0.04,0.05,0.06,0.00,-0.14,-0.20,-0.16,-0.12,-0.09,-0.06,-0.04,-0.02,-0.01,0.00,0.00,0.01,0.01,0.01,0.01,0.01,0.01,0.01,0.01,0.01,0.01,0.01,0.01,0.01]

# j) beta_7
beta7 = [
    [0.00,0.02,-0.01,0.03,0.01,0.02,0.00,0.03,0.02,0.06,0.08,0.04,0.02,-0.02,-0.04,-0.06,-0.05,-0.07,-0.08,-0.06,-0.05,-0.07,-0.04,-0.06,-0.05,-0.03,-0.06,-0.04,-0.05,-0.07,-0.05,-0.06,-0.05],
    [-0.02,-0.06,-0.01,0.02,0.00,0.03,0.01,0.05,0.06,0.04,0.12,0.08,0.05,0.02,-0.02,-0.04,-0.02,-0.05,-0.03,-0.06,-0.04,-0.07,-0.05,-0.02,-0.06,-0.04,-0.07,-0.05,-0.03,-0.06,-0.04,-0.07,-0.05],
    [0.04,0.00,0.03,-0.02,0.02,0.04,0.01,0.06,0.08,0.14,0.22,0.16,0.10,0.06,0.02,0.04,-0.01,0.02,-0.03,0.00,-0.04,-0.02,0.01,-0.03,0.02,-0.01,0.04,0.00,-0.02,0.02,-0.04,0.00,-0.02],
    [0.02,0.05,0.00,0.03,0.06,0.02,0.05,0.03,0.00,0.06,0.10,0.12,0.06,0.03,0.00,-0.04,-0.02,-0.06,-0.04,-0.08,-0.10,-0.06,-0.12,-0.08,-0.04,-0.06,-0.02,-0.05,-0.03,-0.06,-0.08,-0.04,-0.06],
    [0.00,0.03,-0.02,0.06,0.02,0.05,0.03,0.08,0.04,0.10,0.06,0.10,0.04,0.08,0.02,0.05,0.00,0.02,0.04,0.00,0.03,-0.02,0.01,-0.03,-0.06,-0.02,-0.04,-0.08,-0.05,-0.10,-0.06,-0.08,-0.10],
    [0.02,-0.02,0.04,0.00,0.03,-0.01,0.02,0.04,0.00,0.08,0.04,0.07,0.02,0.00,-0.04,-0.01,-0.05,-0.02,-0.06,-0.03,-0.07,-0.04,-0.02,-0.06,-0.03,-0.08,-0.05,-0.02,-0.06,-0.09,-0.05,-0.03,-0.07],
    [0.04,0.00,0.06,0.02,0.08,0.04,0.12,0.18,0.24,0.10,0.14,0.08,0.04,0.10,0.06,0.14,0.16,0.08,0.02,0.06,0.00,0.04,-0.02,0.02,-0.04,0.00,0.06,-0.02,-0.08,-0.12,-0.04,-0.08,-0.02],
    [0.00,-0.04,0.02,-0.02,0.04,0.00,0.06,0.10,0.04,0.08,0.02,0.06,0.00,-0.02,0.04,0.00,-0.04,0.02,0.06,-0.02,0.04,0.08,0.00,-0.04,0.02,-0.02,0.04,-0.06,-0.10,-0.04,-0.08,-0.02,0.00],
    [-0.02,0.00,-0.04,-0.02,-0.06,-0.02,-0.06,-0.02,-0.07,0.00,0.06,0.02,-0.02,0.04,0.00,-0.06,-0.02,0.02,-0.04,0.00,-0.06,-0.02,0.02,-0.04,0.00,-0.06,-0.02,0.02,-0.08,-0.04,0.00,-0.06,-0.04],
    [0.10,0.02,0.06,0.00,0.04,0.02,0.10,0.16,0.18,0.06,0.10,0.04,0.00,0.06,-0.04,0.02,-0.06,0.00,-0.08,-0.02,-0.06,0.02,-0.04,0.00,-0.02,0.04,0.00,-0.04,0.02,-0.02,-0.06,0.00,-0.04],
    [0.06,0.12,0.04,0.08,0.02,0.06,0.10,0.04,0.12,0.16,0.08,0.10,0.14,0.06,0.04,0.08,0.02,-0.02,0.04,0.00,0.06,-0.04,0.02,-0.02,0.02,-0.04,-0.02,-0.10,-0.04,0.00,-0.06,-0.02,-0.06],
    [0.01,0.01,0.00,0.01,0.02,0.02,0.01,0.02,-0.04,0.04,0.09,0.07,0.04,0.02,0.01,0.00,-0.01,-0.01,-0.01,-0.02,-0.02,-0.02,-0.03,-0.03,-0.04,-0.04,-0.04,-0.04,-0.05,-0.05,-0.06,-0.06,-0.07],
]
beta7_ref = [0.00,0.00,0.00,0.01,0.01,0.01,0.02,0.02,0.03,0.04,0.03,0.00,-0.03,-0.05,-0.06,-0.06,-0.06,-0.06,-0.05,-0.05,-0.05,-0.05,-0.05,-0.05,-0.05,-0.05,-0.05,-0.05,-0.05,-0.05,-0.05,-0.05,-0.05]

M = '\u2212'
panels = [
    dict(t=time_q, lines=[bz], refs=[bz_ref], ylim=(-6.1, 4.6), yt=[-4, 0, 4], yl=[M+'4', '0', '4'],
         lab='IMF B$_z$\n(nT)', lx=-0.098, tag='a', zero=True, top=False),
    dict(t=time_b, lines=[sml, smu], refs=[sml_ref, smu_ref], ylim=(-500, 250), yt=[-500, -250, 0, 250],
         yl=['', M+'250', '0', '250'], lab='SML, SMU\n(nT)', lx=-0.152, tag='b', zero=True, top=True),
    dict(t=time_b, lines=[lam], refs=[lam_ref], ylim=(17, 22), yt=[18, 20, 22], yl=['18', '20', '22'],
         lab='\u039b\u00b0', lx=-0.099, tag='c', zero=False, top=True),
    dict(t=time_q, lines=[alpha1], refs=[alpha1_ref], ylim=(1.0, 2.8), yt=[1.0, 1.6, 2.2, 2.8],
         yl=['', '1.6', '2.2', '2.8'], lab=r'$\alpha_1$', lx=-0.099, tag='d', zero=False, top=True),
    dict(t=time_q, lines=[beta1], refs=[beta1_ref], ylim=(0.8, 2.6), yt=[0.8, 1.4, 2.0, 2.6],
         yl=['', '1.4', '2.0', '2.6'], lab=r'$\beta_1$', lx=-0.099, tag='e', zero=False, top=True),
    dict(t=time_q, lines=[beta3], refs=[beta3_ref], ylim=(-0.3, 0.5), yt=[-0.3, -0.1, 0.1, 0.3, 0.5],
         yl=['', M+'0.1', '0.1', '0.3', '0.5'], lab=r'$\beta_3$', lx=-0.152, tag='f', zero=True, top=True),
    dict(t=time_q, lines=[beta4], refs=[beta4_ref], ylim=(-0.4, 0.4), yt=[-0.4, -0.2, 0.0, 0.2, 0.4],
         yl=['', M+'0.2', '0.0', '0.2', '0.4'], lab=r'$\beta_4$', lx=-0.152, tag='g', zero=True, top=True),
    dict(t=time_q, lines=[beta5], refs=[beta5_ref], ylim=(-0.2, 0.4), yt=[-0.2, 0.0, 0.2, 0.4],
         yl=['', '0.0', '0.2', '0.4'], lab=r'$\beta_5$', lx=-0.103, tag='h', zero=True, top=True),
    dict(t=time_q, lines=[beta6], refs=[beta6_ref], ylim=(-0.3, 0.3), yt=[-0.3, -0.1, 0.1, 0.3],
         yl=['', M+'0.1', '0.1', '0.3'], lab=r'$\beta_6$', lx=-0.133, tag='i', zero=True, top=True),
    dict(t=time_q, lines=[beta7], refs=[beta7_ref], ylim=(-0.3, 0.3), yt=[-0.3, -0.1, 0.1, 0.3],
         yl=[M+'0.3', M+'0.1', '0.1', '0.3'], lab=r'$\beta_7$', lx=-0.133, tag='j', zero=True, top=True),
]

# sanity check on hand-typed series
bad = []
for p in panels:
    n = len(p['t'])
    for group in p['lines']:
        for k, s in enumerate(group):
            if len(s) != n:
                bad.append((p['tag'], k, len(s)))
    for k, s in enumerate(p['refs']):
        if len(s) != n:
            bad.append((p['tag'], 'ref', len(s)))
if bad:
    raise SystemExit('length mismatch: %s' % bad)

fig, axes = plt.subplots(10, 1, sharex=True, figsize=(6.45, 11.22), dpi=100)
fig.subplots_adjust(left=0.1984, right=0.9938, top=0.9902, bottom=0.0561, hspace=0)

for ax, p in zip(axes, panels):
    ax.axvline(0, color='k', ls=':', lw=1.0, zorder=1)
    if p['zero']:
        ax.axhline(0, color='#808080', ls=':', lw=1.2, zorder=1)
    for r in p['refs']:
        ax.plot(p['t'], r, color='k', ls=(0, (6, 4)), lw=1.5, zorder=2)
    for i, c in enumerate(colors):
        for group in p['lines']:
            ax.plot(p['t'], group[i], color=c, lw=1.25, zorder=3 + i * 0.01)

    ax.set_xlim(-2, 6)
    ax.set_xticks(range(-2, 7))
    ax.set_ylim(*p['ylim'])
    ax.set_yticks(p['yt'])
    ax.set_yticklabels(p['yl'])
    ax.tick_params(direction='in', top=True, right=True, length=7, width=1.5,
                   labelsize=13, pad=5)
    for s in ax.spines.values():
        s.set_linewidth(1.8)
    if p['top']:
        ax.yaxis.get_major_ticks()[-1].label1.set_va('top')

    ax.set_ylabel(p['lab'], fontsize=13.5, linespacing=1.0)
    ax.yaxis.set_label_coords(p['lx'], 0.5)
    ax.text(0.947, 0.65, p['tag'], transform=ax.transAxes, ha='right', va='baseline',
            fontsize=24, family='Liberation Serif', style='italic')

axes[-1].yaxis.get_major_ticks()[0].label1.set_va('bottom')
axes[-1].set_xticklabels([M+'2', '', '0', '', '2', '', '4', '', '6'])
axes[-1].tick_params(axis='x', pad=12)
axes[-1].set_xlabel('Epoch time (h)', fontsize=13, labelpad=2)

fig.savefig('out.png', dpi=100)
